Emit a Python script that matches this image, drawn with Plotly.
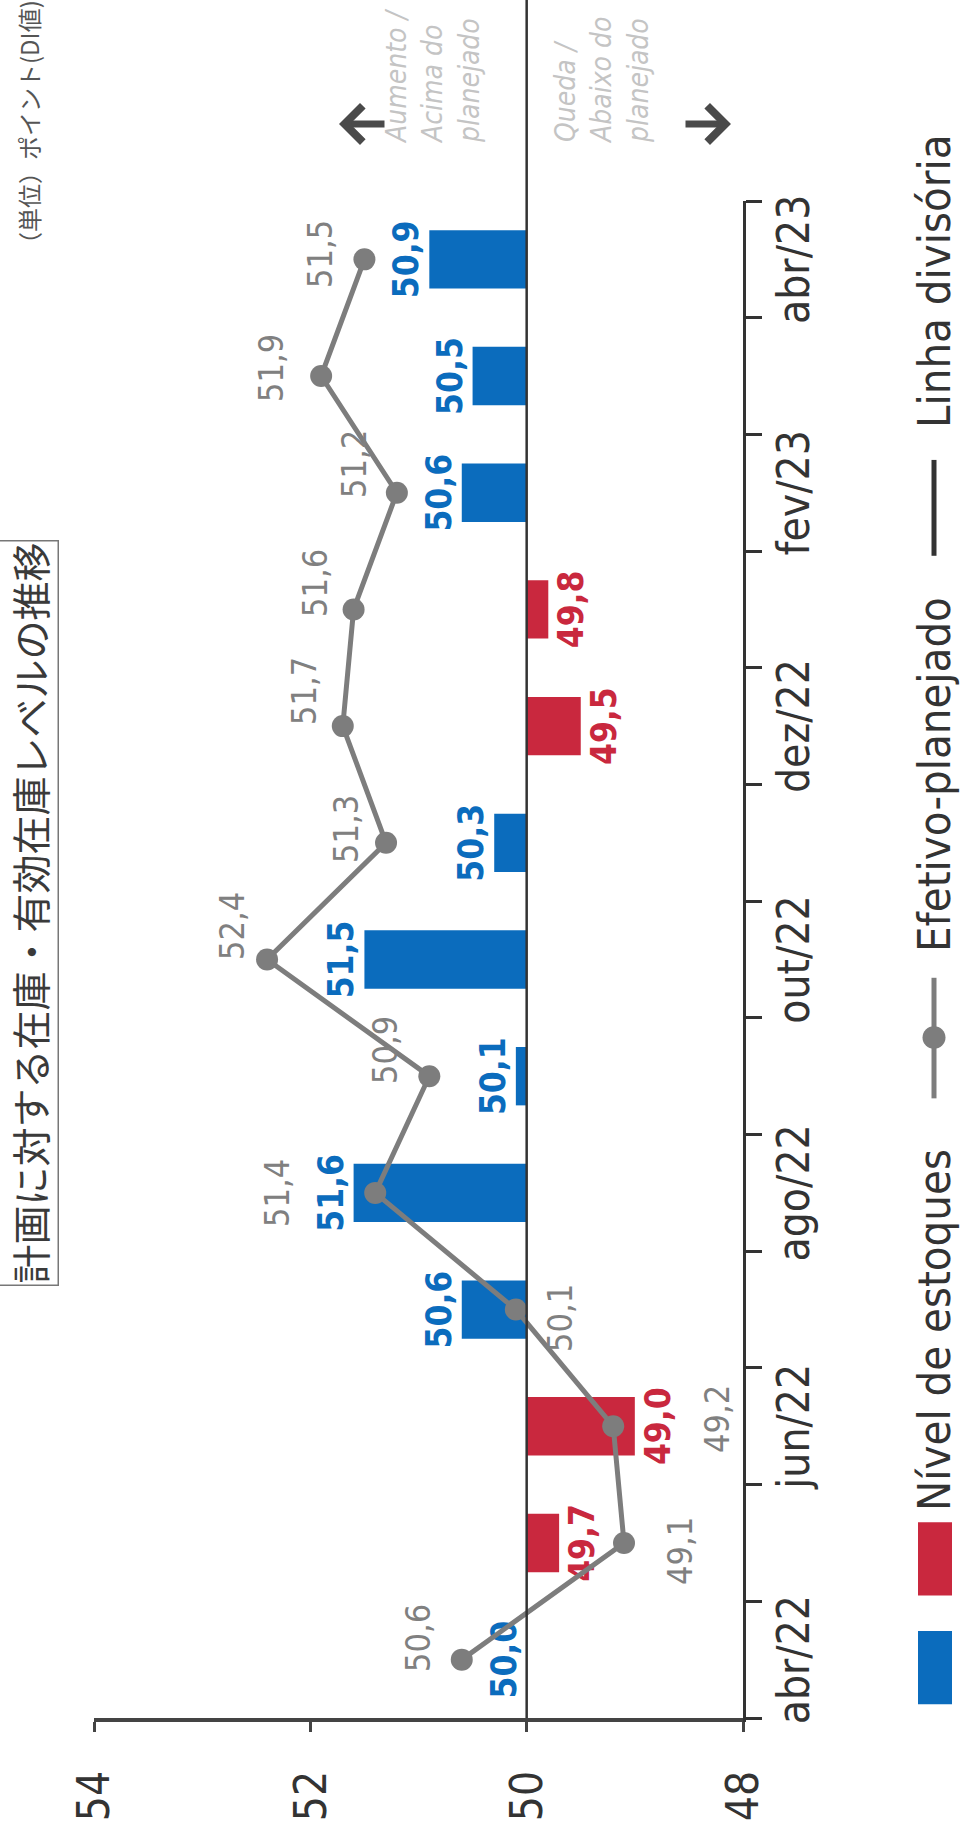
import plotly.graph_objects as go

# data read from the (rotated) printed chart
months = ["abr/22", "mai/22", "jun/22", "jul/22", "ago/22", "set/22", "out/22",
          "nov/22", "dez/22", "jan/23", "fev/23", "mar/23", "abr/23"]
tick_labels = ["abr/22", "", "jun/22", "", "ago/22", "", "out/22",
               "", "dez/22", "", "fev/23", "", "abr/23"]
estoques = [50.0, 49.7, 49.0, 50.6, 51.6, 50.1, 51.5, 50.3, 49.5, 49.8, 50.6, 50.5, 50.9]
efetivo = [50.6, 49.1, 49.2, 50.1, 51.4, 50.9, 52.4, 51.3, 51.7, 51.6, 51.2, 51.9, 51.5]
value_ticks = [48, 50, 52, 54]

# label nudges for the line values (pixels)
label_shift = [(22, 44), (-8, -56), (7, -104), (-8, -44), (0, 98), (26, 44), (33, 35),
               (14, 40), (35, 39), (26, 39), (29, 43), (8, 50), (5, 44)]

# the figure is drawn unrotated and turned -90deg in the page
W, H = 1833, 965
L, R, T, B = 97, 201, 94, 222

BLUE = "#0b6cbd"
RED = "#c9283e"
GRAY = "#7d7d7d"
INK = "#333333"
FONT = "Liberation Sans Narrow, DejaVu Sans Condensed, sans-serif"
CJK = "Noto Sans CJK JP"


def px(fx):
    return (fx - L) / (W - L - R)


def py(fy):
    return (H - B - fy) / (H - T - B)


def fmt(v):
    return f"{v:.1f}".replace(".", ",")


fig = go.Figure()

bar_colors = [BLUE if v >= 50 else RED for v in estoques]
fig.add_trace(go.Bar(
    x=months, y=[v - 50 for v in estoques], base=50,
    marker=dict(color=bar_colors, line_width=0),
    text=[f"<b>{fmt(v)}</b>" for v in estoques], textposition="outside",
    textfont=dict(size=35, color=bar_colors, family=FONT),
    constraintext="none", cliponaxis=False, hoverinfo="skip",
))

fig.add_trace(go.Scatter(
    x=months, y=efetivo, mode="lines+markers",
    line=dict(color=GRAY, width=5), marker=dict(size=22, color=GRAY),
    cliponaxis=False, hoverinfo="skip",
))

for m, v, (dx, dy) in zip(months, efetivo, label_shift):
    fig.add_annotation(x=m, y=v, text=fmt(v), showarrow=False, xshift=dx, yshift=dy,
                       font=dict(size=34, color="#808080", family=FONT))

# linha divisoria
fig.add_shape(type="line", xref="paper", yref="y", x0=0, x1=px(W) + 0.01, y0=50, y1=50,
              line=dict(color=INK, width=2.5))

fig.update_xaxes(
    type="category", range=[-0.5, 12.5], tickmode="array", tickvals=months, ticktext=tick_labels,
    tickson="boundaries", ticks="outside", ticklen=16, tickwidth=2.5, tickcolor=INK, tickangle=0,
    showline=True, linecolor=INK, linewidth=3, showgrid=False,
    tickfont=dict(size=44, color=INK, family=FONT), ticklabelstandoff=10,
)
fig.update_yaxes(
    range=[48, 54], tickvals=value_ticks, ticks="outside", ticklen=10, tickwidth=3, tickcolor="#444",
    showline=True, linecolor="#444", linewidth=4, showgrid=False, zeroline=False,
    tickfont=dict(size=44, color=INK, family=FONT), ticklabelstandoff=30,
)

# titles
fig.add_annotation(xref="paper", yref="paper", x=px(534), y=py(28), xanchor="left", yanchor="middle",
                   text="計画に対する在庫・有効在庫レベルの推移", showarrow=False,
                   font=dict(family=CJK, size=39, color="#3a3a3a"),
                   bordercolor="#777", borderwidth=1.5, borderpad=1)
fig.add_annotation(xref="paper", yref="paper", x=px(1574), y=py(28), xanchor="left", yanchor="middle",
                   text="（単位）ポイント(DI値)", showarrow=False,
                   font=dict(family=CJK, size=24, color="#555"))

# direction hints at the end of the divider
for head, tail in [(339, 386), (731, 684)]:
    fig.add_annotation(xref="paper", yref="paper", x=px(1710), y=py(head), text="",
                       showarrow=True, ax=0, ay=tail - head, arrowhead=4, arrowsize=1,
                       arrowwidth=7, arrowcolor="#4a4a4a")
for fy, txt in [(433, "Aumento /<br>Acima do<br>planejado"), (602, "Queda /<br>Abaixo do<br>planejado")]:
    fig.add_annotation(xref="paper", yref="paper", x=px(1688), y=py(fy), xanchor="left", yanchor="middle",
                       align="left", text=txt, showarrow=False,
                       font=dict(family=FONT, size=28, color="#c4c4c4", style="italic"))

# hand-built legend
LEG_Y = 934
fig.add_shape(type="rect", xref="paper", yref="paper", x0=px(111), x1=px(185), y0=py(952), y1=py(918),
              fillcolor=BLUE, line_width=0)
fig.add_shape(type="rect", xref="paper", yref="paper", x0=px(221), x1=px(295), y0=py(952), y1=py(918),
              fillcolor=RED, line_width=0)
fig.add_shape(type="line", xref="paper", yref="paper", x0=px(724), x1=px(846), y0=py(LEG_Y), y1=py(LEG_Y),
              line=dict(color=GRAY, width=5))
fig.add_shape(type="circle", xref="paper", yref="paper", x0=px(774), x1=px(797), y0=py(LEG_Y + 11.5),
              y1=py(LEG_Y - 11.5), fillcolor=GRAY, line_width=0)
fig.add_shape(type="line", xref="paper", yref="paper", x0=px(1273), x1=px(1370), y0=py(LEG_Y), y1=py(LEG_Y),
              line=dict(color=INK, width=5))
for fx, txt in [(304, "Nível de estoques"), (870, "Efetivo-planejado"), (1400, "Linha divisória")]:
    fig.add_annotation(xref="paper", yref="paper", x=px(fx), y=py(LEG_Y), xanchor="left", yanchor="middle",
                       text=txt, showarrow=False, font=dict(family=FONT, size=45, color=INK))

fig.update_layout(
    width=W, height=H, margin=dict(l=L, r=R, t=T, b=B, pad=0),
    paper_bgcolor="white", plot_bgcolor="white", showlegend=False, bargap=0.5,
)

rotate_js = """
var gd = document.getElementById('{plot_id}');
document.documentElement.style.overflow = 'hidden';
document.body.style.margin = '0';
document.body.style.overflow = 'hidden';
gd.style.position = 'absolute';
gd.style.left = '0px';
gd.style.top = '0px';
gd.style.transformOrigin = '0 0';
gd.style.transform = 'translate(0px, """ + str(W) + """px) rotate(-90deg)';
"""

fig.write_html("out.html", post_script=rotate_js, config={"displayModeBar": False})
